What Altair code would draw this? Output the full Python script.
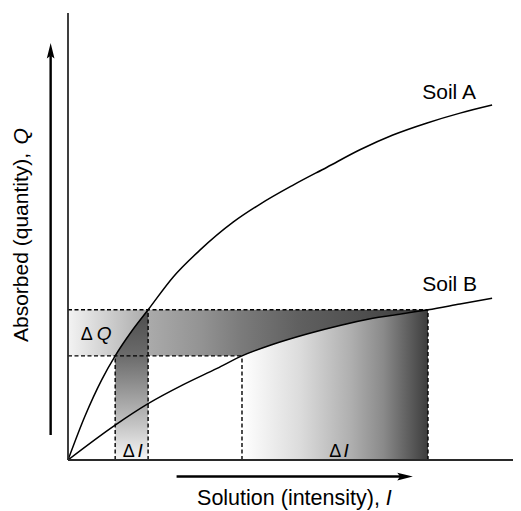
import altair as alt
import pandas as pd

# ---------------- data ----------------
# Soil A isotherm: solution intensity I vs absorbed quantity Q
soil_a_I = [0, 0.38, 0.76, 1.06, 1.43, 1.80, 2.36, 2.97, 3.71, 4.31, 5.06, 5.82, 6.56, 7.30, 8.07, 8.81, 9.53]
soil_a_Q = [0, 0.98, 1.80, 2.33, 2.88, 3.36, 4.09, 4.70, 5.32, 5.72, 6.15, 6.55, 6.94, 7.27, 7.54, 7.76, 7.94]
# Soil B isotherm
soil_b_I = [0, 1.06, 1.80, 2.58, 3.35, 3.91, 4.61, 5.37, 6.11, 6.85, 8.09, 8.81, 9.53]
soil_b_Q = [0, 0.78, 1.26, 1.68, 2.05, 2.33, 2.59, 2.82, 3.01, 3.17, 3.36, 3.49, 3.62]

# Q levels and the matching intensities on each soil
q_levels = [2.33, 3.36]
i_soil_a = [1.06, 1.80]
i_soil_b = [3.91, 8.09]

# curve labels
curve_labels = ["Soil A", "Soil B"]
curve_label_x = [7.96, 7.96]
curve_label_y = [8.08, 3.79]

# delta labels: (symbol, variable)
delta_vars = ["Q", "I", "I"]
delta_x = [0.285, 1.23, 5.87]
delta_var_x = [0.645, 1.56, 6.19]
delta_y = [2.68, 0.07, 0.07]

# axis titles and arrows
x_title = ["Solution (intensity),", "I"]
x_title_x = [2.90, 7.14]
x_title_y = -1.0
y_title = ["Absorbed (quantity),", "Q"]
y_title_y = [2.64, 7.06]
y_title_x = -0.90
y_arrow = {"x": -0.39, "y": 0.56, "y2": 9.05, "head": 9.15}
x_arrow = {"y": -0.37, "x": 2.44, "x2": 7.48, "head": 7.57}

DOMAIN = [0, 10]
FONT = "Liberation Sans"

xs = alt.Scale(domain=DOMAIN, nice=False, zero=False)
ys = alt.Scale(domain=DOMAIN, nice=False, zero=False)


def X(f):
    return alt.X(f, type="quantitative", scale=xs, axis=None)


def Y(f):
    return alt.Y(f, type="quantitative", scale=ys, axis=None)


def grad(stops, horizontal=True):
    return alt.LinearGradient(
        gradient="linear",
        stops=[alt.GradientStop(offset=o, color=c) for o, c in stops],
        x1=0, x2=1 if horizontal else 0, y1=0, y2=0 if horizontal else 1,
    )


df_a = pd.DataFrame({"I": soil_a_I, "Q": soil_a_Q, "soil": "A"})
df_b = pd.DataFrame({"I": soil_b_I, "Q": soil_b_Q, "soil": "B"})
curves = pd.concat([df_a, df_b], ignore_index=True)

# horizontal Delta Q band
band_df = pd.DataFrame({"x": [0], "x2": [i_soil_b[1]], "y": [q_levels[0]], "y2": [q_levels[1]]})
band = alt.Chart(band_df).mark_rect(
    fill=grad([(0, "#f3f3f3"), (0.22, "#ababab"), (0.37, "#939393"), (0.48, "#7b7b7b"),
               (0.64, "#606060"), (0.92, "#454545"), (1, "#3a3a3a")]),
    strokeWidth=0,
).encode(x=X("x"), x2="x2", y=Y("y"), y2="y2")

# vertical band under soil A
va_df = df_a[(df_a.I >= i_soil_a[0]) & (df_a.I <= i_soil_a[1])]
v_area = alt.Chart(va_df).mark_area(
    interpolate="monotone",
    fill=grad([(0, "#4c4c4c"), (0.31, "#6c6c6c"), (0.47, "#8a8a8a"), (0.77, "#c5c5c5"), (1, "#f6f6f6")], horizontal=False),
).encode(x=X("I"), y=Y("Q"), y2=alt.datum(0))

# big region under soil B
vb_df = df_b[(df_b.I >= i_soil_b[0]) & (df_b.I <= i_soil_b[1])]
b_area = alt.Chart(vb_df).mark_area(
    interpolate="monotone",
    fill=grad([(0, "#ffffff"), (0.31, "#dcdcdc"), (0.58, "#b0b0b0"), (0.76, "#8a8a8a"), (0.94, "#505050"), (1, "#3c3c3c")]),
).encode(x=X("I"), y=Y("Q"), y2=alt.datum(0))

# dashed guide lines
dash_df = pd.DataFrame({
    "x": [0, 0, i_soil_a[0], i_soil_a[1], i_soil_b[0], i_soil_b[1]],
    "x2": [i_soil_b[1], i_soil_b[0], i_soil_a[0], i_soil_a[1], i_soil_b[0], i_soil_b[1]],
    "y": [q_levels[1], q_levels[0], 0, 0, 0, 0],
    "y2": [q_levels[1], q_levels[0], q_levels[0], q_levels[1], q_levels[0], q_levels[1]],
})
dashes = alt.Chart(dash_df).mark_rule(color="black", strokeWidth=1.4, strokeDash=[4, 2.5]).encode(
    x=X("x"), x2="x2", y=Y("y"), y2="y2")

lines = alt.Chart(curves).mark_line(color="black", strokeWidth=1.5, interpolate="monotone").encode(
    x=X("I"), y=Y("Q"), detail="soil:N")

# axis lines
axes_df = pd.DataFrame({"x": [0, 0], "x2": [0, 10], "y": [0, 0], "y2": [10, 0]})
axes = alt.Chart(axes_df).mark_rule(color="#2a2a2a", strokeWidth=1.8).encode(
    x=X("x"), x2="x2", y=Y("y"), y2="y2")

# arrows
arrow_df = pd.DataFrame({
    "x": [y_arrow["x"], x_arrow["x"]], "x2": [y_arrow["x"], x_arrow["x2"]],
    "y": [y_arrow["y"], x_arrow["y"]], "y2": [y_arrow["y2"], x_arrow["y"]],
})
arrow_lines = alt.Chart(arrow_df).mark_rule(color="black", strokeWidth=2.4).encode(
    x=X("x"), x2="x2", y=Y("y"), y2="y2")
head_df = pd.DataFrame({"x": [y_arrow["x"], x_arrow["head"]], "y": [y_arrow["head"], x_arrow["y"]], "a": [0, 90]})
HEAD = "M0,-1L0.48,0.95L0,0.6L-0.48,0.95Z"
heads = alt.Chart(head_df).mark_point(shape=HEAD, filled=True, color="black", opacity=1, size=256).encode(
    x=X("x"), y=Y("y"), angle=alt.Angle("a:Q", scale=None))

# curve labels
cl_df = pd.DataFrame({"t": curve_labels, "x": curve_label_x, "y": curve_label_y})
clabels = alt.Chart(cl_df).mark_text(align="left", baseline="alphabetic", font=FONT, fontSize=21, color="black").encode(
    x=X("x"), y=Y("y"), text="t:N")

# delta labels
d_df = pd.DataFrame({"t": ["\u0394"] * 3, "x": delta_x, "y": delta_y})
dsym = alt.Chart(d_df).mark_text(align="left", baseline="alphabetic", font=FONT, fontSize=18, color="black").encode(
    x=X("x"), y=Y("y"), text="t:N")
dv_df = pd.DataFrame({"t": delta_vars, "x": delta_var_x, "y": delta_y})
dvar = alt.Chart(dv_df).mark_text(align="left", baseline="alphabetic", font=FONT, fontSize=19, fontStyle="italic",
                                  color="black").encode(x=X("x"), y=Y("y"), text="t:N")

# axis titles
xt_reg = alt.Chart(pd.DataFrame({"t": [x_title[0]], "x": [x_title_x[0]], "y": [x_title_y]})).mark_text(
    align="left", baseline="alphabetic", font=FONT, fontSize=21.5, color="black").encode(x=X("x"), y=Y("y"), text="t:N")
xt_it = alt.Chart(pd.DataFrame({"t": [x_title[1]], "x": [x_title_x[1]], "y": [x_title_y]})).mark_text(
    align="left", baseline="alphabetic", font=FONT, fontSize=21.5, fontStyle="italic", color="black").encode(
    x=X("x"), y=Y("y"), text="t:N")
yt_reg = alt.Chart(pd.DataFrame({"t": [y_title[0]], "x": [y_title_x], "y": [y_title_y[0]]})).mark_text(
    align="left", baseline="alphabetic", angle=270, font=FONT, fontSize=21, color="black").encode(
    x=X("x"), y=Y("y"), text="t:N")
yt_it = alt.Chart(pd.DataFrame({"t": [y_title[1]], "x": [y_title_x], "y": [y_title_y[1]]})).mark_text(
    align="left", baseline="alphabetic", angle=270, font=FONT, fontSize=21, fontStyle="italic", color="black").encode(
    x=X("x"), y=Y("y"), text="t:N")

chart = alt.layer(
    band, v_area, b_area, dashes, lines, axes, arrow_lines, heads,
    clabels, dsym, dvar, xt_reg, xt_it, yt_reg, yt_it,
).properties(
    width=445, height=447,
    padding={"left": 60, "top": 5, "right": 0, "bottom": 50},
    autosize=alt.AutoSizeParams(type="none"),
    background="white",
).configure_view(stroke=None)

chart.save("out.html", embed_options={"renderer": "svg", "actions": False})
